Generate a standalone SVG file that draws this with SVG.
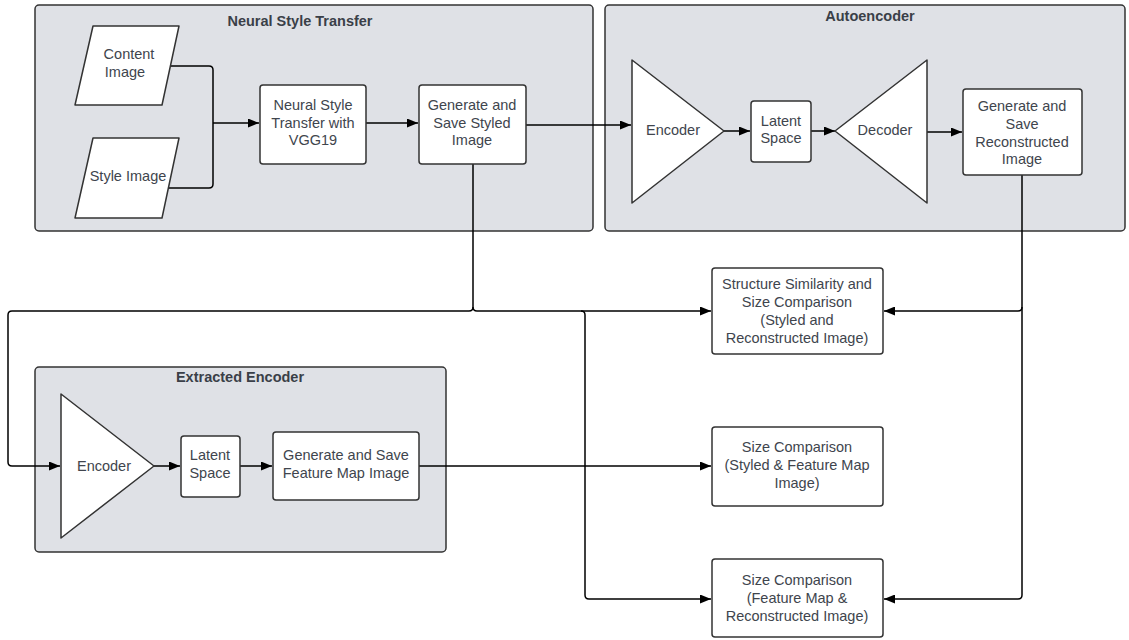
<svg xmlns="http://www.w3.org/2000/svg" width="1129" height="640" viewBox="0 0 1129 640">
<defs>
<marker id="ah" markerUnits="userSpaceOnUse" markerWidth="11" markerHeight="9" refX="11" refY="4.5" orient="auto">
<path d="M0,0 L11,4.5 L0,9 z" fill="#000"/>
</marker>
<style>
.cont{fill:#dfe1e6;stroke:#333;stroke-width:1.5}
.node{fill:#fff;stroke:#333;stroke-width:1.5;stroke-linejoin:round}
.t{font-family:"Liberation Sans",Arial,sans-serif;font-size:14.5px;fill:#40454d;text-anchor:middle}
.ttl{font-family:"Liberation Sans",Arial,sans-serif;font-size:14.5px;font-weight:bold;fill:#3a3f48;text-anchor:middle}
.c{fill:none;stroke:#000;stroke-width:1.5}
.ca{fill:none;stroke:#000;stroke-width:1.5;marker-end:url(#ah)}
</style>
</defs>
<rect width="1129" height="640" fill="#fff"/>

<g id="nst-container">
<rect class="cont" x="35" y="5" width="558" height="226" rx="4"/>
<text class="ttl" x="300" y="26">Neural Style Transfer</text>
</g>
<g id="ae-container">
<rect class="cont" x="605" y="5" width="520" height="226" rx="4"/>
<text class="ttl" x="870" y="21">Autoencoder</text>
</g>
<g id="ee-container">
<rect class="cont" x="35" y="367" width="411" height="185" rx="4"/>
<text class="ttl" x="240" y="382">Extracted Encoder</text>
</g>

<g id="connectors">
<path class="c" d="M170,66 H209 Q213,66 213,70 V123"/>
<path class="c" d="M168,188 H209 Q213,188 213,184 V123"/>
<path class="ca" d="M213,123 H259"/>
<path class="ca" d="M366,123 H418"/>
<path class="ca" d="M526,125 H631"/>
<path class="ca" d="M724,131 H750"/>
<path class="ca" d="M811,131 H835"/>
<path class="ca" d="M927,132 H962"/>
<path class="ca" d="M473,164 V307 Q473,311 469,311 H12 Q8,311 8,315 V462 Q8,466 12,466 H60"/>
<path class="ca" d="M473,307 Q473,311 477,311 H711"/>
<path class="ca" d="M581,311 Q585,311 585,315 V595 Q585,599 589,599 H711"/>
<path class="ca" d="M419,466 H711"/>
<path class="ca" d="M1022,175 V307 Q1022,311 1018,311 H884"/>
<path class="ca" d="M1022,307 V595 Q1022,599 1018,599 H884"/>
<path class="ca" d="M154,466 H180"/>
<path class="ca" d="M240,466 H272"/>
</g>

<g id="content-image">
<polygon class="node" points="93,26 179,26 162,105 75,105"/>
<text class="t" x="129" y="59">Content</text>
<text class="t" x="125" y="77">Image</text>
</g>
<g id="style-image">
<polygon class="node" points="93,138 179,138 162,218 75,218"/>
<text class="t" x="128" y="181">Style Image</text>
</g>
<g id="nst-vgg19">
<rect class="node" x="260" y="85" width="106" height="79" rx="3"/>
<text class="t" x="313" y="110">Neural Style</text>
<text class="t" x="313" y="128">Transfer with</text>
<text class="t" x="313" y="145">VGG19</text>
</g>
<g id="styled-image">
<rect class="node" x="419" y="85" width="107" height="79" rx="3"/>
<text class="t" x="472" y="110">Generate and</text>
<text class="t" x="472" y="128">Save Styled</text>
<text class="t" x="472" y="145">Image</text>
</g>
<g id="ae-encoder">
<polygon class="node" points="632,60 724,131 632,203"/>
<text class="t" x="673" y="135">Encoder</text>
</g>
<g id="ae-latent">
<rect class="node" x="751" y="101" width="60" height="61" rx="3"/>
<text class="t" x="781" y="126">Latent</text>
<text class="t" x="781" y="143">Space</text>
</g>
<g id="ae-decoder">
<polygon class="node" points="927,60 835,131 927,203"/>
<text class="t" x="885" y="135">Decoder</text>
</g>
<g id="recon-image">
<rect class="node" x="963" y="89" width="119" height="86" rx="3"/>
<text class="t" x="1022" y="111">Generate and</text>
<text class="t" x="1022" y="129">Save</text>
<text class="t" x="1022" y="147">Reconstructed</text>
<text class="t" x="1022" y="164">Image</text>
</g>
<g id="ee-encoder">
<polygon class="node" points="61,394 154,466 61,538"/>
<text class="t" x="104" y="471">Encoder</text>
</g>
<g id="ee-latent">
<rect class="node" x="181" y="436" width="59" height="61" rx="3"/>
<text class="t" x="210" y="460">Latent</text>
<text class="t" x="210" y="478">Space</text>
</g>
<g id="feature-image">
<rect class="node" x="273" y="432" width="146" height="68" rx="3"/>
<text class="t" x="346" y="460">Generate and Save</text>
<text class="t" x="346" y="478">Feature Map Image</text>
</g>
<g id="ssim-compare">
<rect class="node" x="712" y="268" width="171" height="86" rx="3"/>
<text class="t" x="797" y="289">Structure Similarity and</text>
<text class="t" x="797" y="307">Size Comparison</text>
<text class="t" x="797" y="325">(Styled and</text>
<text class="t" x="797" y="343">Reconstructed Image)</text>
</g>
<g id="size-compare-1">
<rect class="node" x="712" y="427" width="171" height="79" rx="3"/>
<text class="t" x="797" y="452">Size Comparison</text>
<text class="t" x="797" y="470">(Styled &amp; Feature Map</text>
<text class="t" x="797" y="488">Image)</text>
</g>
<g id="size-compare-2">
<rect class="node" x="712" y="559" width="171" height="78" rx="3"/>
<text class="t" x="797" y="585">Size Comparison</text>
<text class="t" x="797" y="603">(Feature Map &amp;</text>
<text class="t" x="797" y="621">Reconstructed Image)</text>
</g>
</svg>
